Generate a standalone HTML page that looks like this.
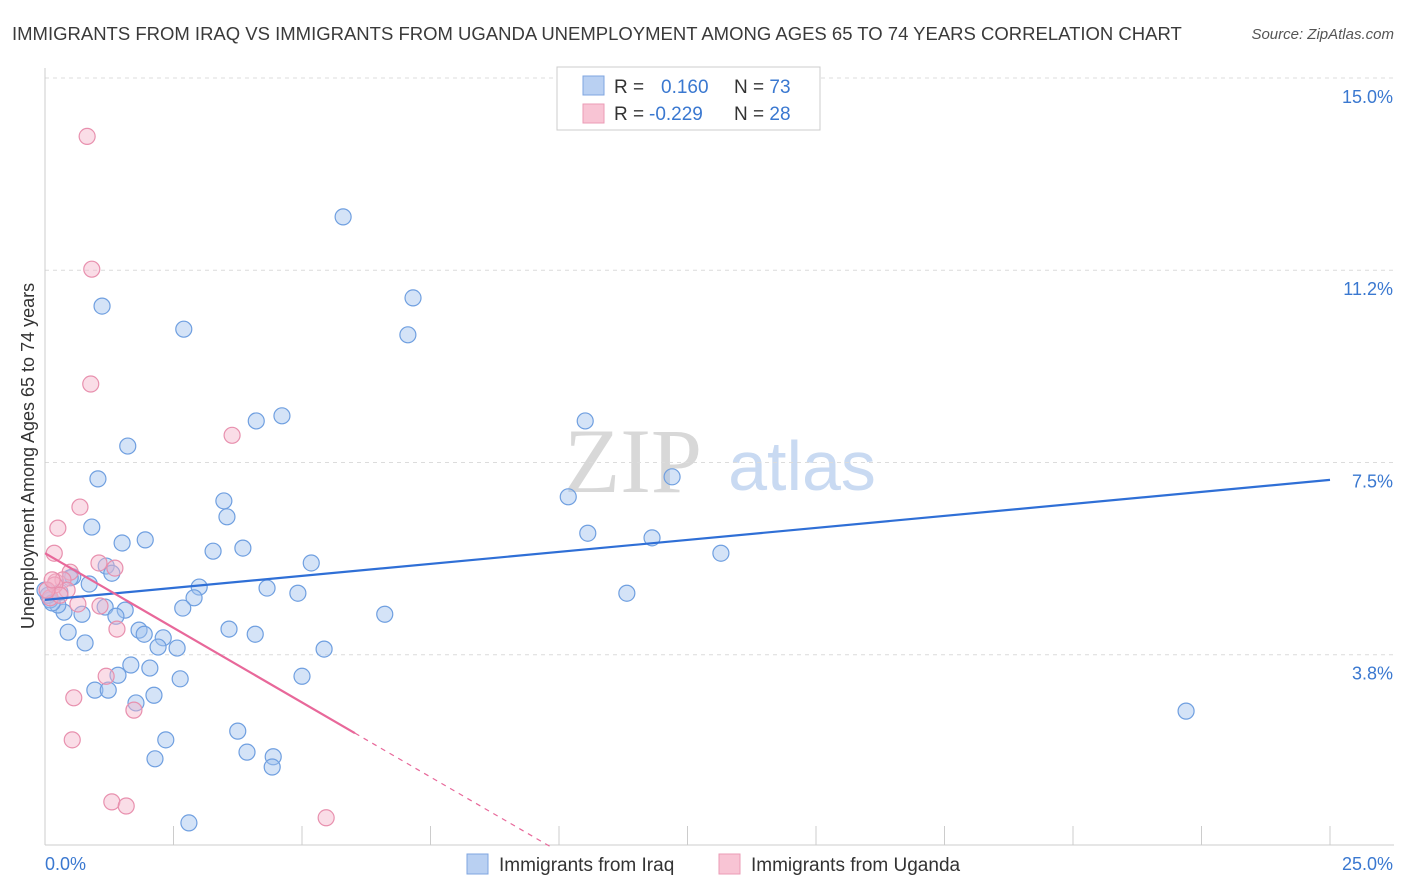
<!DOCTYPE html>
<html><head><meta charset="utf-8"><style>
body{margin:0;background:#fff;font-family:"Liberation Sans",sans-serif}
#wrap{position:relative;width:1406px;height:892px;overflow:hidden}
</style></head><body><div id="wrap">
<svg id="c" width="1406" height="892" xmlns="http://www.w3.org/2000/svg">
<text x="12" y="40" font-size="18.5" fill="#3a3a3a">IMMIGRANTS FROM IRAQ VS IMMIGRANTS FROM UGANDA UNEMPLOYMENT AMONG AGES 65 TO 74 YEARS CORRELATION CHART</text>
<text x="1394" y="39" font-size="15" fill="#555" font-style="italic" text-anchor="end">Source: ZipAtlas.com</text>
<text x="633" y="492" font-size="92" fill="#d8d8d8" font-family="Liberation Serif,serif" text-anchor="middle">ZIP</text>
<text x="802" y="490" font-size="70" fill="#c9daf2" text-anchor="middle">atlas</text>
<text transform="translate(34,456) rotate(-90)" font-size="18" fill="#333" text-anchor="middle">Unemployment Among Ages 65 to 74 years</text>
<g id="grid"></g><g id="pts"></g><g id="lines"></g>
<g>
<rect x="557" y="67" width="263" height="63" fill="#fff" stroke="#ccc"/>
<rect x="583" y="76" width="21" height="19" fill="#b9d0f2" stroke="#7fa6e0"/>
<rect x="583" y="104" width="21" height="19" fill="#f8c4d4" stroke="#eb9bb6"/>
<text x="614" y="93" font-size="19" fill="#333">R = <tspan x="661" fill="#3a78d0">0.160</tspan><tspan x="734">N = </tspan><tspan fill="#3a78d0">73</tspan></text>
<text x="614" y="120" font-size="19" fill="#333">R = <tspan x="649" fill="#3a78d0">-0.229</tspan><tspan x="734">N = </tspan><tspan fill="#3a78d0">28</tspan></text>
</g>
<g>
<rect x="467" y="854" width="21" height="20" fill="#b9d0f2" stroke="#7fa6e0"/>
<text x="499" y="871" font-size="19" fill="#333">Immigrants from Iraq</text>
<rect x="719" y="854" width="21" height="20" fill="#f8c4d4" stroke="#eb9bb6"/>
<text x="751" y="871" font-size="19" fill="#333">Immigrants from Uganda</text>
</g>
</svg></div>
<script>
const xTicks=[0,2.5,5,7.5,10,12.5,15,17.5,20,22.5,25];
const yTicks=[3.75,7.5,11.25,15];
const yTickLabels=["3.8%","7.5%","11.2%","15.0%"];
const xEndLabels=["0.0%","25.0%"];
const iraqX=[5.80,7.16,1.11,2.70,7.06,4.61,4.11,10.51,1.61,1.03,12.20,3.48,10.18,3.54,0.91,10.56,1.95,1.50,11.81,3.85,3.27,13.15,5.18,1.19,1.30,0.54,0.86,4.32,3.00,2.90,4.92,11.32,2.68,1.56,1.17,1.38,0.72,0.37,0.25,0.10,0.06,6.61,0.45,1.83,1.93,3.58,4.09,2.30,2.20,2.57,0.78,5.43,1.67,2.04,2.63,5.00,1.42,0.97,1.23,2.12,1.77,3.75,2.35,22.20,3.93,4.44,2.14,4.42,2.80,0,0.14,0.29,0.49];
const iraqY=[12.29,10.71,10.55,10.10,9.99,8.41,8.31,8.31,7.82,7.18,7.22,6.75,6.83,6.44,6.24,6.12,5.99,5.93,6.03,5.83,5.77,5.73,5.54,5.48,5.34,5.27,5.13,5.05,5.07,4.86,4.95,4.95,4.66,4.62,4.68,4.50,4.54,4.58,4.72,4.82,4.91,4.54,4.19,4.23,4.15,4.25,4.15,4.08,3.90,3.88,3.98,3.86,3.55,3.49,3.28,3.33,3.35,3.06,3.06,2.96,2.81,2.26,2.09,2.65,1.85,1.76,1.72,1.56,0.47,5.01,4.76,4.97,5.25];
const ugX=[0.82,0.91,0.89,3.64,0.68,0.25,0.18,1.05,0.49,1.36,0.21,0.35,0.43,0.10,0.64,1.07,1.40,1.19,0.56,1.73,0.53,1.30,1.58,5.47,0.19,0.29,0.04,0.14];
const ugY=[13.86,11.27,9.03,8.03,6.63,6.22,5.73,5.54,5.36,5.44,5.17,5.21,5.01,4.86,4.74,4.70,4.25,3.33,2.91,2.67,2.09,0.88,0.80,0.57,5.11,4.91,5.01,5.21];
const iraqTrend=[4.82,0.0936];
const ugTrend=[5.73,-0.582,6.03,9.85];
const NS="http://www.w3.org/2000/svg";
const X=v=>45+v*51.4, Y=v=>847-v*51.27;
function mk(t,a,p){const e=document.createElementNS(NS,t);for(const k in a)e.setAttribute(k,a[k]);p.appendChild(e);return e;}
const svg=document.getElementById('c'),g=document.getElementById('grid'),pg=document.getElementById('pts'),lg=document.getElementById('lines');
yTicks.forEach((t,i)=>{
 const l=mk('line',{x1:45,x2:1394,y1:Y(t),y2:Y(t),stroke:'#dcdcdc','stroke-dasharray':'4,4'},g);
 
 
 const tx=mk('text',{x:1393,y:Y(t)+25,'font-size':18,fill:'#3a78d0','text-anchor':'end'},g);
 tx.textContent=yTickLabels[i];
 
 
});
const ax=mk('line',{x1:45,x2:1394,y1:845,y2:845,stroke:'#ccc'},g);


const ay=mk('line',{x1:45,x2:45,y1:68,y2:845,stroke:'#ccc'},g);


xTicks.forEach(t=>{
 const l=mk('line',{x1:X(t),x2:X(t),y1:826,y2:845,stroke:'#ccc'},g);
 
 
});
[[0,'start',45],[25,'end',1393]].forEach((d,i)=>{
 const tx=mk('text',{x:d[2],y:870,'font-size':18,fill:'#3a78d0','text-anchor':d[1]},g);
 tx.textContent=xEndLabels[i];
 
 
});
iraqX.forEach((v,i)=>{
 const c=mk('circle',{cx:X(v),cy:Y(iraqY[i]),r:8,fill:'rgba(160,193,238,0.45)',stroke:'#6f9fe0','stroke-width':1.2},pg);
 
 
});
ugX.forEach((v,i)=>{
 const c=mk('circle',{cx:X(v),cy:Y(ugY[i]),r:8,fill:'rgba(245,180,202,0.45)',stroke:'#e890ae','stroke-width':1.2},pg);
 
 
});
const bl=mk('line',{x1:X(0),y1:Y(iraqTrend[0]),x2:X(25),y2:Y(iraqTrend[0]+25*iraqTrend[1]),stroke:'#2f6fd6','stroke-width':2.2},lg);


const pl=mk('line',{x1:X(0),y1:Y(ugTrend[0]),x2:X(ugTrend[2]),y2:Y(ugTrend[0]+ugTrend[2]*ugTrend[1]),stroke:'#e8689a','stroke-width':2.2},lg);


const pd=mk('line',{x1:X(ugTrend[2]),y1:Y(ugTrend[0]+ugTrend[2]*ugTrend[1]),x2:X(ugTrend[3]),y2:Y(ugTrend[0]+ugTrend[3]*ugTrend[1]),stroke:'#e8689a','stroke-width':1.2,'stroke-dasharray':'5,5'},lg);


</script></body></html>
